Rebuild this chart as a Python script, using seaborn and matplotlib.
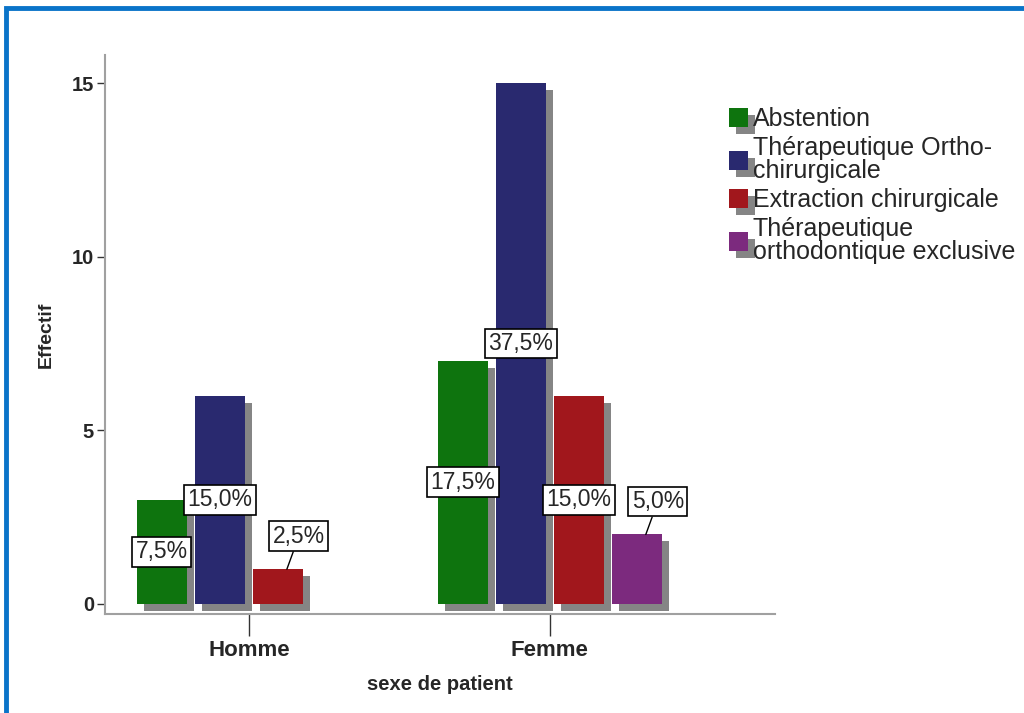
import matplotlib
matplotlib.use('Agg')
import matplotlib.pyplot as plt
import matplotlib.patheffects as pe
from matplotlib.patches import Rectangle
import seaborn as sns
import pandas as pd

# Data
sexes = ["Homme", "Femme"]
traitements = ["Abstention", "Thérapeutique Ortho-chirurgicale",
               "Extraction chirurgicale", "Thérapeutique orthodontique exclusive"]
legend_labels = ["Abstention", "Thérapeutique Ortho-\nchirurgicale",
                 "Extraction chirurgicale", "Thérapeutique\northodontique exclusive"]
effectif_homme = [3, 6, 1, 0]
effectif_femme = [7, 15, 6, 2]
pct_homme = ["7,5%", "15,0%", "2,5%", ""]
pct_femme = ["17,5%", "37,5%", "15,0%", "5,0%"]
colors = ["#0E740E", "#29296F", "#A1171C", "#7C2A7E"]

rows = []
for t, h, f in zip(traitements, effectif_homme, effectif_femme):
    rows.append({"sexe": "Homme", "traitement": t, "effectif": h})
    rows.append({"sexe": "Femme", "traitement": t, "effectif": f})
df = pd.DataFrame(rows)

sns.set_style("white")
plt.rcParams['font.family'] = ['Liberation Sans', 'DejaVu Sans']

fig = plt.figure(figsize=(10.24, 7.13), dpi=100)
ax = fig.add_axes([105 / 1024, 1 - 614 / 713, 670 / 1024, 559 / 713])

sns.barplot(data=df, x="sexe", y="effectif", hue="traitement", order=sexes,
            hue_order=traitements, palette=colors, saturation=1, width=0.77,
            gap=0.136, errorbar=None, linewidth=0, ax=ax, legend=False)

shadow = [pe.SimplePatchShadow(offset=(5, -5), shadow_rgbFace="#858585", alpha=1.0),
          pe.Normal()]
for cont in ax.containers:
    for bar in cont:
        bar.set_path_effects(shadow)

# Percentage labels
box = dict(boxstyle="square,pad=0.15", fc="white", ec="black", lw=1.2)
for cont, ph, pf in zip(ax.containers, pct_homme, pct_femme):
    for bar, txt in zip(cont, [ph, pf]):
        h = bar.get_height()
        if h <= 0 or not txt:
            continue
        xc = bar.get_x() + bar.get_width() / 2
        if h >= 3:
            ax.text(xc, h / 2, txt, ha="center", va="center", fontsize=16.5,
                    bbox=box, zorder=5)
        else:
            ax.annotate(txt, xy=(xc + 0.03, h), xytext=(xc + 0.07, h + 0.95),
                        ha="center", va="center", fontsize=16.5, bbox=box, zorder=5,
                        arrowprops=dict(arrowstyle="-", color="black", lw=1,
                                        shrinkA=0, shrinkB=0))

ax.set_ylim(-0.29, 15.81)
ax.set_xlim(-0.478, 1.748)
ax.set_yticks([0, 5, 10, 15])
ax.tick_params(axis="y", left=True, length=6, width=1, color="#333333",
               labelsize=14.5, pad=2)
ax.tick_params(axis="x", bottom=True, length=16, width=1, color="#333333",
               labelsize=16, pad=3)
for lab in ax.get_xticklabels() + ax.get_yticklabels():
    lab.set_fontweight("bold")
ax.set_xlabel("sexe de patient", fontsize=14.5, fontweight="bold", labelpad=10)
ax.set_ylabel("Effectif", fontsize=14, fontweight="bold", labelpad=12)
sns.despine(ax=ax)
for s in ["left", "bottom"]:
    ax.spines[s].set_color("#A0A0A0")
    ax.spines[s].set_linewidth(1.5)

handles = [cont.patches[-1] for cont in ax.containers]
leg = ax.legend(handles, legend_labels, loc="upper left",
                bbox_to_anchor=(729 / 1024, 1 - 107 / 713),
                bbox_transform=fig.transFigure, frameon=False, fontsize=18,
                handlelength=0.75, handleheight=0.8, handletextpad=0.2,
                labelspacing=0.2, borderpad=0, borderaxespad=0)
for t in leg.get_texts():
    t.set_linespacing(0.95)

# Blue frame around the figure
fig.add_artist(Rectangle((6 / 1024, -0.05), 1.1, 1 - 8 / 713 + 0.05,
                         transform=fig.transFigure, fill=False,
                         ec="#0A74C9", lw=3.5))

plt.savefig("out.png", dpi=100)
plt.close()
